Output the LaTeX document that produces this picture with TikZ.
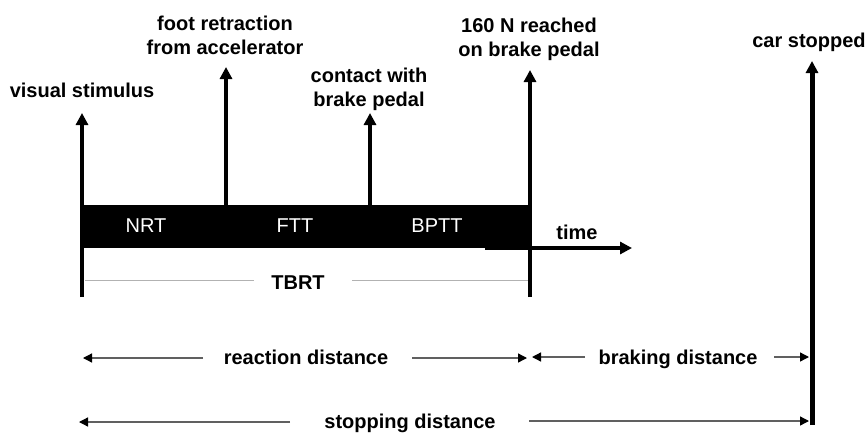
\documentclass[tikz,border=0pt]{standalone}
\usepackage{fontspec}
\setmainfont{Liberation Sans}
\usetikzlibrary{positioning,arrows.meta}
\tikzset{event/.style={line width=4pt, -{Triangle[length=12pt,width=12pt]}}}
\tikzset{span/.style={draw=gray!75!black, line width=1.3pt, -{Triangle[length=9pt,width=9pt,color=black]}}}
\tikzset{lbl/.style={font=\fontsize{20}{24}\selectfont\bfseries, align=center, inner sep=0pt}}
\tikzset{dist/.style={lbl, text height=15pt, text depth=4pt}}
\tikzset{phase/.style={font=\fontsize{20}{24}\selectfont, text=white, inner sep=0pt}}

\begin{document}
\begin{tikzpicture}[x=1pt, y=-1pt]
\useasboundingbox (0,0) rectangle (867,434);

% time bar
\coordinate (barNW) at (82,205);
\coordinate (barSE) at (530,248);
\fill (barNW) rectangle (barSE);
\node[phase] (nrt) at (146,226) {NRT};
\node[phase] (ftt) at (295,226) {FTT};
\node[phase] (bptt) at (437,226) {BPTT};

\coordinate (t0) at (485,248);
\coordinate (t1) at (632,248);
\draw[event] (t0) -- (t1);
\node[lbl] (time) at (577,232) {time};

% events
\coordinate (vsBot) at (82,297);
\coordinate (vsTip) at (82,113);
\coordinate (frBot) at (226,205);
\coordinate (frTip) at (226,67);
\coordinate (cbBot) at (370,205);
\coordinate (cbTip) at (370,113);
\coordinate (fnBot) at (530,297);
\coordinate (fnTip) at (530,70);
\coordinate (csBot) at (812,425);
\coordinate (csTip) at (812,61);

\draw[event] (vsBot) -- (vsTip);
\draw[event] (frBot) -- (frTip);
\draw[event] (cbBot) -- (cbTip);
\draw[event] (fnBot) -- (fnTip);
\draw[event, line width=5pt] (csBot) -- (csTip);

\node[lbl] (vs) at (82,90) {visual stimulus};
\node[lbl] (fr) at (225,35) {foot retraction\\from accelerator};
\node[lbl] (cb) at (369,89) {contact with\\brake pedal};
\node[lbl] (fn) at (529,39) {160 N reached\\on brake pedal};
\node[lbl] (cs) at (809,42) {car stopped};

% TBRT
\node[lbl] (tbrt) at (298,283) {TBRT};
\coordinate (tbA) at (85,280);
\coordinate (tbB) at (254,280);
\coordinate (tbC) at (352,280);
\coordinate (tbD) at (528,280);
\draw[gray!60, line width=1pt] (tbA) -- (tbB);
\draw[gray!60, line width=1pt] (tbC) -- (tbD);

% distances
\node[dist] (rd) at (306,359) {reaction distance};
\coordinate (rdA) at (203,358);
\coordinate (rdL) at (83,358);
\coordinate (rdB) at (412,358);
\coordinate (rdR) at (527,358);
\draw[span] (rdA) -- (rdL);
\draw[span] (rdB) -- (rdR);

\node[dist] (bd) at (678,359) {braking distance};
\coordinate (bdA) at (585,357);
\coordinate (bdL) at (532,357);
\coordinate (bdB) at (774,357);
\coordinate (bdR) at (809,357);
\draw[span] (bdA) -- (bdL);
\draw[span] (bdB) -- (bdR);

\node[dist] (sd) at (410,423) {stopping distance};
\coordinate (sdA) at (290,422);
\coordinate (sdL) at (79,422);
\coordinate (sdB) at (529,421);
\coordinate (sdR) at (809,421);
\draw[span] (sdA) -- (sdL);
\draw[span] (sdB) -- (sdR);
\end{tikzpicture}
\end{document}
